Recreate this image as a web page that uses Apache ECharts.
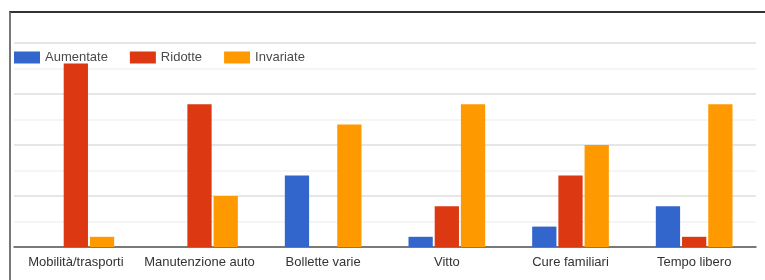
<!DOCTYPE html>
<html>
<head>
<meta charset="utf-8">
<script src="https://cdn.jsdelivr.net/npm/echarts@6/dist/echarts.min.js"></script>
<style>
  html, body { margin: 0; padding: 0; background: #fff; }
  #chart { width: 765px; height: 280px; }
  #frame {
    position: absolute; left: 9px; top: 11px; width: 760px; height: 275px;
    border-top: 2px solid #333; border-left: 2px solid #777;
    pointer-events: none;
  }
</style>
</head>
<body>
<div id="chart"></div>
<div id="frame"></div>
<script>
// categorie e valori
var categorie = ['Mobilità/trasporti', 'Manutenzione auto', 'Bollette varie', 'Vitto', 'Cure familiari', 'Tempo libero'];
var aumentate = [0, 0, 14, 2, 4, 8];
var ridotte = [36, 28, 0, 8, 14, 2];
var invariate = [2, 10, 24, 28, 20, 28];

var chartDom = document.getElementById('chart');
var myChart = echarts.init(chartDom);

var fontFam = 'Arial, "Liberation Sans", sans-serif';

var option = {
  animation: false,
  color: ['#3366cc', '#dc3912', '#ff9900'],
  legend: {
    left: 14,
    top: 51,
    padding: 0,
    icon: 'rect',
    itemWidth: 26,
    itemHeight: 12,
    itemGap: 22,
    textStyle: { fontFamily: fontFam, fontSize: 13, color: '#4a4a4a' }
  },
  grid: { left: 14, right: 9, top: 43, bottom: 33 },
  xAxis: {
    type: 'category',
    data: categorie,
    axisTick: { show: false },
    axisLine: { lineStyle: { color: '#555', width: 1.5 } },
    axisLabel: { interval: 0, fontFamily: fontFam, fontSize: 13, color: '#333', margin: 9 }
  },
  yAxis: {
    type: 'value',
    min: 0,
    max: 40,
    interval: 10,
    axisLabel: { show: false },
    splitLine: { lineStyle: { color: '#e6e6e6', width: 2 } },
    minorTick: { show: false, splitNumber: 2 },
    minorSplitLine: { show: true, lineStyle: { color: '#f2f2f2', width: 1.5 } }
  },
  series: [
    { name: 'Aumentate', type: 'bar', data: aumentate, barGap: '8%', barCategoryGap: '38%' },
    { name: 'Ridotte', type: 'bar', data: ridotte },
    { name: 'Invariate', type: 'bar', data: invariate }
  ]
};

myChart.setOption(option);
</script>
</body>
</html>
